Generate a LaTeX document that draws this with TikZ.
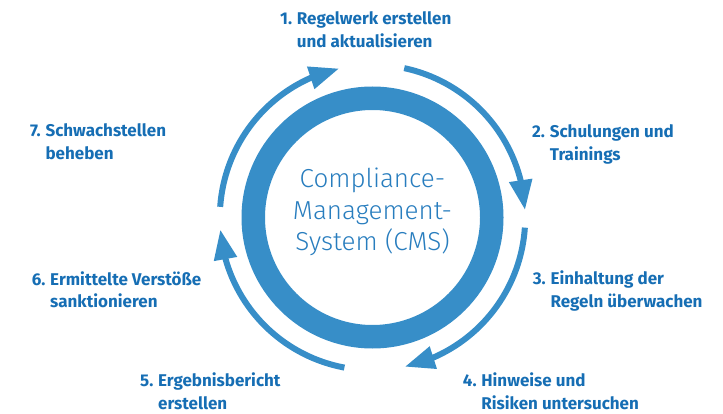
\documentclass[tikz,border=0pt]{standalone}
\usepackage{fontspec}
\setmainfont{Fira Sans}
\newfontfamily\cmsfont{Fira Sans Light}
\usetikzlibrary{arrows.meta,bending}

\definecolor{cmsblue}{RGB}{55,142,200}
\definecolor{cmstext}{RGB}{40,125,190}
\definecolor{labelblue}{RGB}{22,110,180}

\tikzset{
  cycle arrow/.style={draw=cmsblue, line width=6pt,
    -{Triangle[length=30pt,width=22pt]}},
  steplabel/.style={anchor=base west, inner sep=0pt, text=labelblue,
    font=\fontsize{17}{22.5}\selectfont\bfseries},
}
% numbered step text with a hanging second line
\newcommand\steptext[2]{\begin{tabular}[t]{@{}l@{\hspace{0.28em}}l@{}}#1 & #2\end{tabular}}

\begin{document}
\begin{tikzpicture}[x=1pt,y=1pt]
  \useasboundingbox (0,0) rectangle (723,413);

  % central ring with the system name
  \node[circle, draw=cmsblue, line width=23.5pt, minimum size=238.5pt, inner sep=0pt]
    (ring) at (372.5,195.5) {};
  \node[align=center, text=cmstext, inner sep=0pt,
        font=\cmsfont\fontsize{26}{31.5}\selectfont]
    (cms) at (372.5,201.1) {Compliance-\\Management-\\System (CMS)};

  % four clockwise arrows around the ring
  \draw[cycle arrow] ([shift={(176:152.7pt)}]ring.center)
    arc[start angle=176, end angle=102.6, radius=152.7pt];
  \draw[cycle arrow] ([shift={(78:152.7pt)}]ring.center)
    arc[start angle=78, end angle=2.8, radius=152.7pt];
  \draw[cycle arrow] ([shift={(-3.8:152.7pt)}]ring.center)
    arc[start angle=-3.8, end angle=-77.8, radius=152.7pt];
  \draw[cycle arrow] ([shift={(259.4:152.7pt)}]ring.center)
    arc[start angle=259.4, end angle=184.5, radius=152.7pt];

  % step labels
  \node[steplabel] (s1) at (280,388)     {\steptext{1.}{Regelwerk erstellen\\ & und aktualisieren}};
  \node[steplabel] (s2) at (532,275)     {\steptext{2.}{Schulungen und\\ & Trainings}};
  \node[steplabel] (s3) at (532.7,128.3) {\steptext{3.}{Einhaltung der\\ & Regeln überwachen}};
  \node[steplabel] (s4) at (462.7,26.3)  {\steptext{4.}{Hinweise und\\ & Risiken untersuchen}};
  \node[steplabel] (s5) at (140,26.3)    {\steptext{5.}{Ergebnisbericht\\ & erstellen}};
  \node[steplabel] (s6) at (31.7,127.7)  {\steptext{6.}{Ermittelte Verstöße\\ & sanktionieren}};
  \node[steplabel] (s7) at (30,276.3)    {\steptext{7.}{Schwachstellen\\ & beheben}};
\end{tikzpicture}
\end{document}
